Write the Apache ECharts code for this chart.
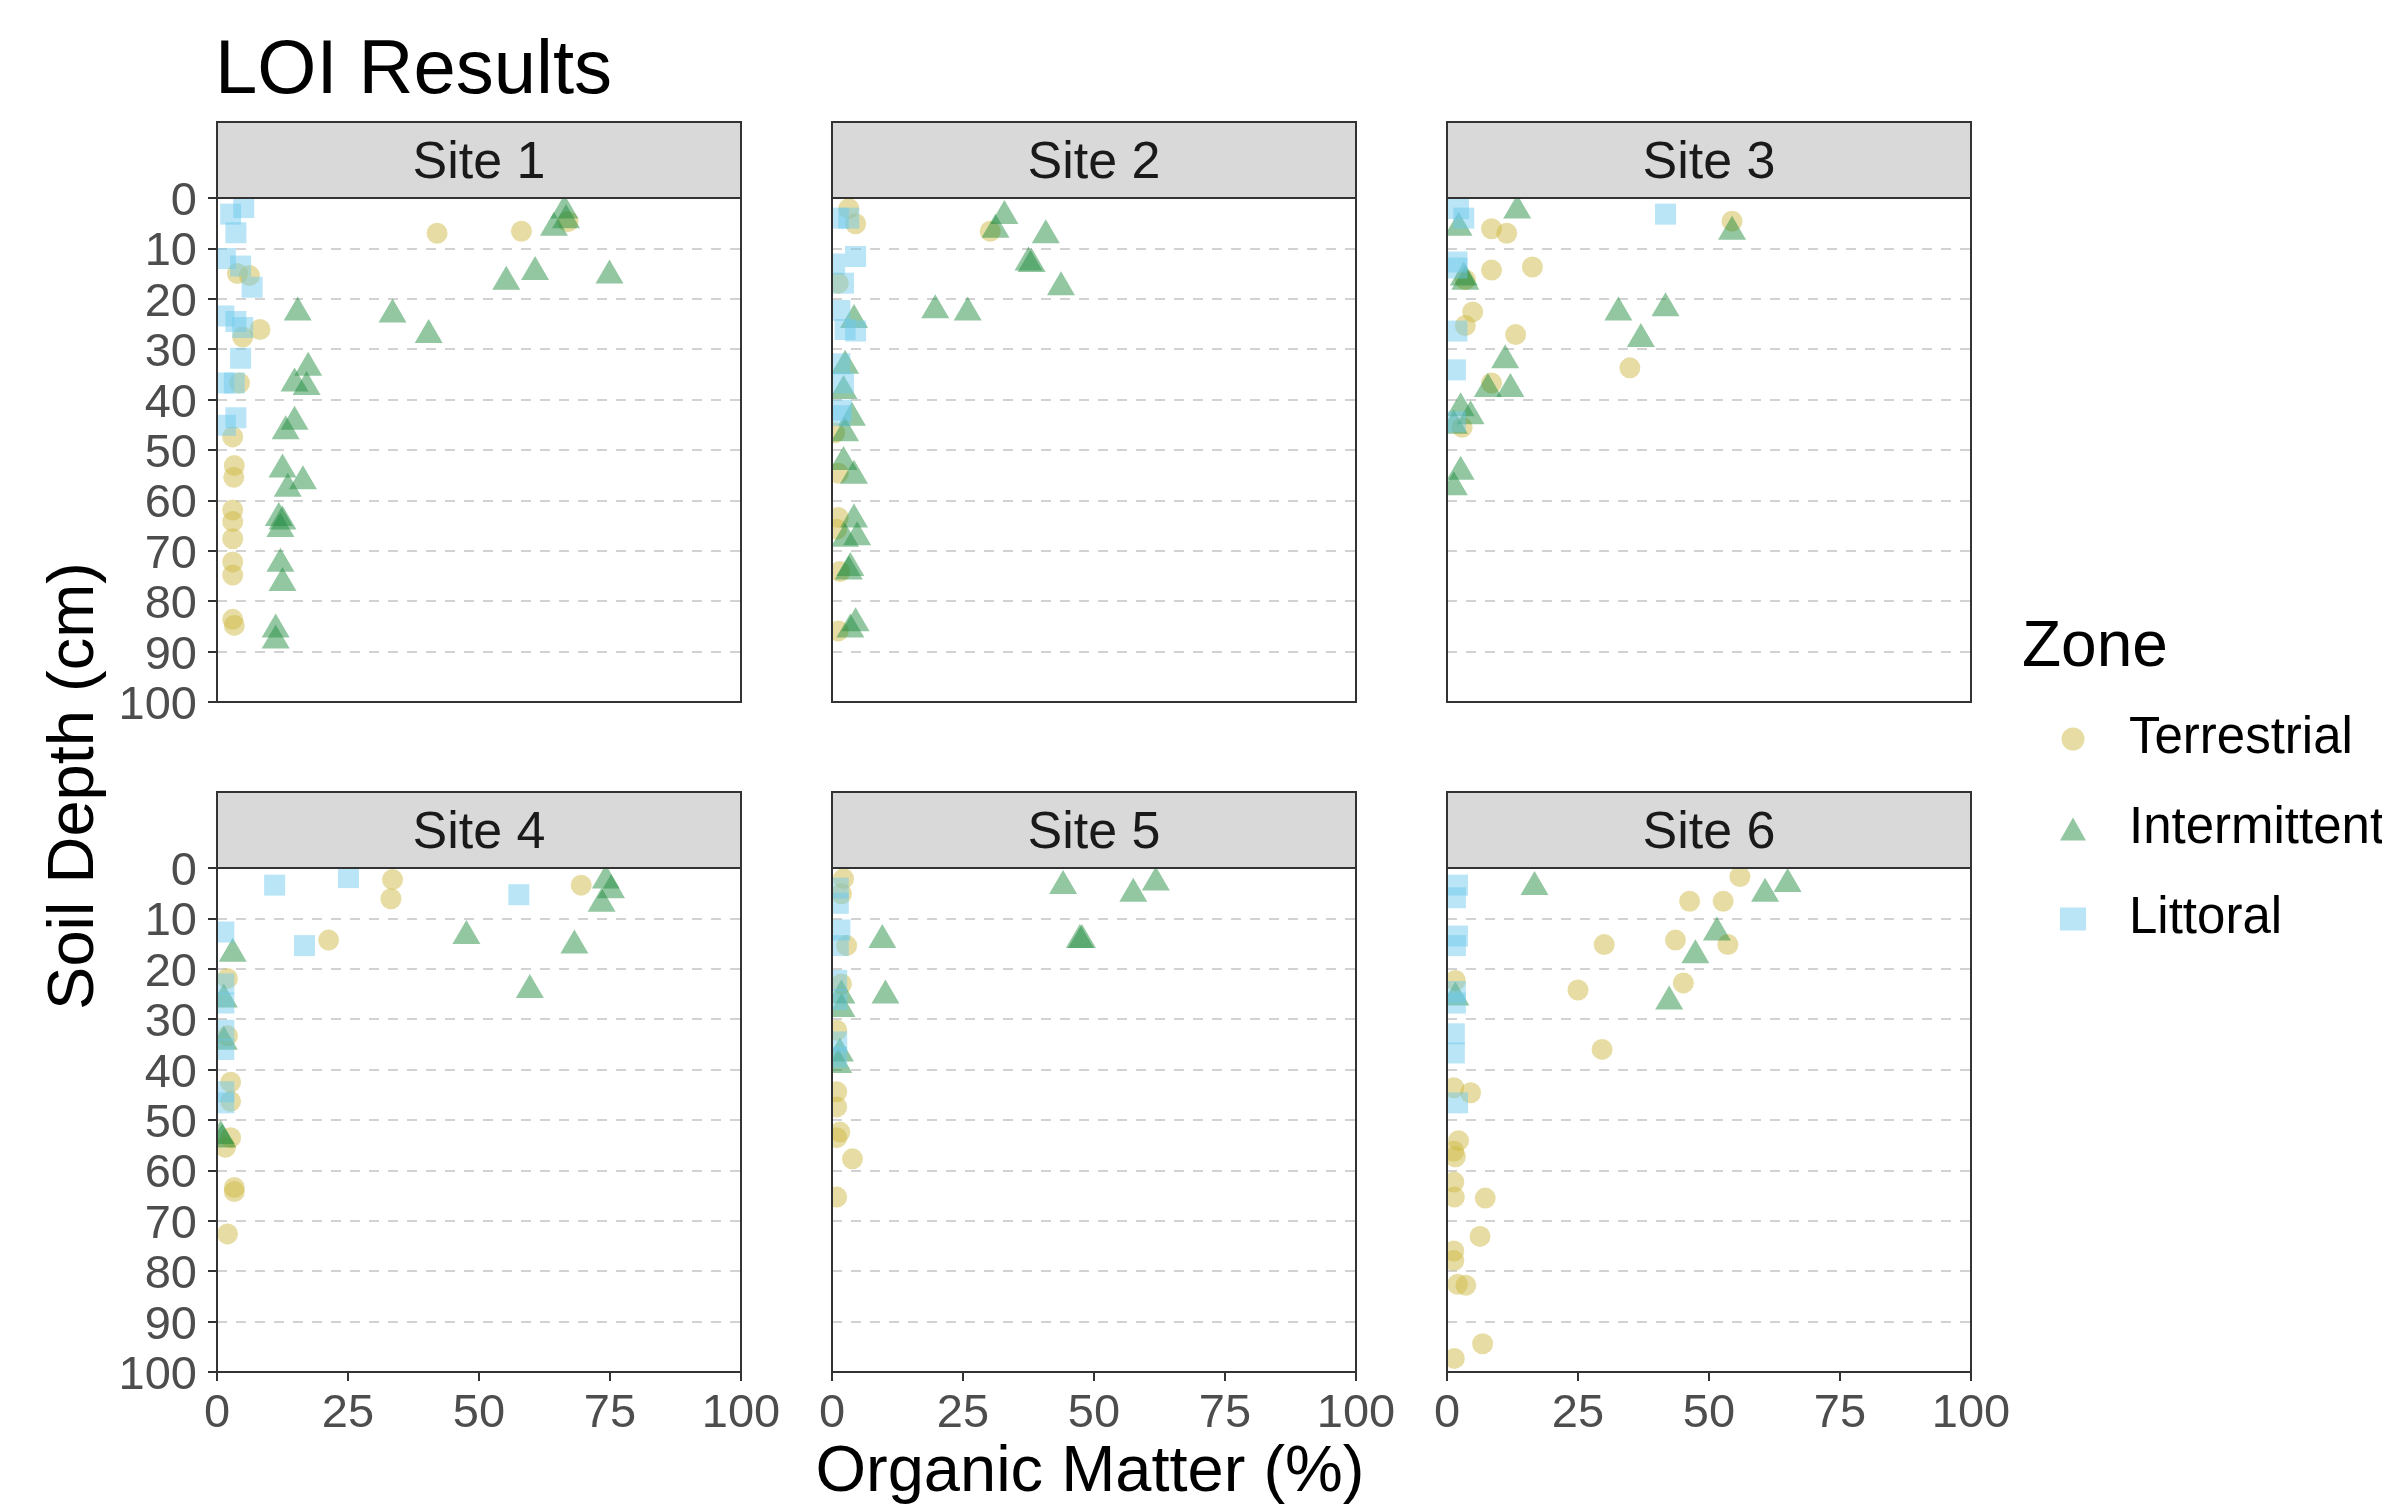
<!DOCTYPE html>
<html><head><meta charset="utf-8">
<script src="https://cdn.jsdelivr.net/npm/echarts/dist/echarts.min.js"></script>
<style>html,body{margin:0;padding:0;background:#fff}#c{width:2382px;height:1506px}</style>
</head><body><div id="c"></div><script>
// ---- data: [organic matter %, depth cm] ----
const siteNames = ['Site 1','Site 2','Site 3','Site 4','Site 5','Site 6'];
const zoneNames = ['Terrestrial','Intermittent','Littoral'];
const depthTicks = [0,10,20,30,40,50,60,70,80,90,100];
const omTicks = [0,25,50,75,100];

const s1Terrestrial = [[42.0,7.0],[58.1,6.6],[67.0,4.7],[3.9,15.0],[6.2,15.4],[8.2,26.1],[4.9,27.6],[4.3,36.7],[3.0,47.4],[3.3,53.1],[3.2,55.4],[3.0,61.9],[3.0,64.2],[3.0,67.6],[3.0,72.2],[3.0,74.8],[3.0,83.6],[3.3,84.8]];
const s1Intermittent = [[66.3,1.7],[66.6,3.6],[64.3,5.1],[55.2,15.8],[60.7,13.9],[74.9,14.6],[15.4,21.9],[33.5,22.3],[40.4,26.4],[17.4,32.9],[14.8,36.0],[17.1,36.7],[14.8,43.6],[13.1,45.5],[12.5,53.1],[16.4,55.4],[13.5,56.9],[11.8,62.7],[12.5,63.4],[12.1,64.9],[12.1,71.8],[12.5,75.6],[11.2,84.8],[11.2,87.0]];
const s1Littoral = [[2.6,3.2],[5.1,1.9],[3.6,6.9],[1.6,12.0],[4.5,13.5],[6.7,17.7],[1.3,23.4],[3.6,24.5],[4.9,25.7],[4.5,31.8],[1.3,36.7],[3.3,36.7],[3.6,43.6],[1.6,45.1]];

const s2Terrestrial = [[3.2,2.1],[4.5,5.1],[30.2,6.6],[1.2,16.9],[0.5,46.6],[1.2,54.6],[1.2,63.4],[0.9,65.7],[1.5,74.1],[1.2,85.9]];
const s2Intermittent = [[32.9,2.8],[31.2,5.5],[40.8,6.6],[37.5,12.0],[38.1,12.3],[43.7,16.9],[19.7,21.5],[25.9,21.9],[4.2,23.4],[2.5,32.5],[2.2,37.5],[3.8,42.8],[2.5,45.9],[2.2,51.6],[4.2,54.3],[4.2,63.0],[4.8,66.5],[2.5,66.8],[3.5,72.6],[3.2,73.3],[4.5,83.6],[3.5,84.8]];
const s2Littoral = [[3.2,4.0],[1.2,4.0],[4.5,11.6],[0.5,13.1],[2.2,16.9],[1.5,22.3],[2.5,26.1],[4.5,26.4],[1.5,32.9],[2.2,36.7],[1.8,42.1],[1.5,43.2]];

const s3Terrestrial = [[8.5,6.1],[11.4,7.0],[54.4,4.6],[8.5,14.3],[16.3,13.7],[3.5,16.2],[4.9,22.6],[3.5,25.3],[13.1,27.1],[34.9,33.7],[8.5,36.7],[2.9,45.5]];
const s3Intermittent = [[13.4,1.7],[2.2,5.1],[54.4,5.9],[3.2,15.0],[3.5,15.8],[32.7,21.9],[41.7,21.1],[37.0,27.2],[11.1,31.4],[7.8,37.1],[12.1,37.1],[2.6,40.9],[4.5,42.5],[1.3,44.4],[2.6,53.5],[1.3,56.6]];
const s3Littoral = [[2.2,2.1],[3.2,4.0],[41.7,3.2],[1.9,12.7],[1.9,13.9],[1.9,26.4],[1.6,34.1],[1.6,44.4]];

const s4Terrestrial = [[33.5,2.3],[33.2,6.1],[69.5,3.4],[21.3,14.3],[2.0,21.9],[2.0,33.3],[2.6,42.5],[2.6,46.3],[2.6,53.5],[1.6,55.4],[3.3,63.4],[3.3,64.2],[2.0,72.6]];
const s4Intermittent = [[74.2,1.7],[75.2,3.6],[73.4,6.3],[47.6,12.7],[68.2,14.6],[59.7,23.4],[3.0,16.2],[1.3,25.3],[1.3,33.7],[0.7,52.4],[1.0,53.1]];
const s4Littoral = [[11.0,3.4],[25.1,1.9],[57.6,5.3],[16.7,15.4],[1.3,12.7],[1.3,23.0],[1.3,26.8],[1.3,32.2],[1.3,36.0],[1.3,44.4],[1.3,46.6]];

const s5Terrestrial = [[2.2,2.1],[1.8,5.1],[2.8,15.4],[1.8,23.0],[0.9,32.2],[0.9,44.4],[0.9,47.4],[1.5,52.4],[0.9,53.5],[3.9,57.7],[0.9,65.3]];
const s5Intermittent = [[44.1,2.8],[61.8,2.1],[57.5,4.3],[9.6,13.5],[47.3,13.5],[47.7,13.5],[10.2,24.5],[1.8,24.5],[1.8,27.2],[1.5,36.0],[1.2,38.3]];
const s5Littoral = [[1.2,4.0],[1.2,7.0],[1.5,12.3],[1.2,15.4],[0.9,22.3],[0.9,26.1],[0.9,34.5],[0.9,37.5]];

const s6Terrestrial = [[55.9,1.7],[46.3,6.6],[52.7,6.6],[30.0,15.2],[43.6,14.3],[53.6,15.2],[25.0,24.2],[45.1,22.8],[1.6,22.3],[29.6,36.0],[1.3,43.6],[4.5,44.6],[2.2,54.1],[1.3,56.2],[1.6,57.3],[1.3,62.3],[1.4,65.3],[7.3,65.5],[6.3,73.1],[1.3,76.0],[1.3,77.9],[2.0,82.6],[3.6,82.8],[6.8,94.4],[1.4,97.3]];
const s6Intermittent = [[16.7,3.0],[65.0,2.4],[60.7,4.3],[51.5,12.0],[47.4,16.5],[42.4,25.7],[1.6,24.9]];
const s6Littoral = [[2.0,3.4],[1.6,5.9],[2.0,13.5],[1.6,15.4],[1.6,24.5],[1.6,26.8],[1.4,32.9],[1.4,36.7],[2.0,46.6]];

const siteData = [
  [s1Terrestrial, s1Intermittent, s1Littoral],
  [s2Terrestrial, s2Intermittent, s2Littoral],
  [s3Terrestrial, s3Intermittent, s3Littoral],
  [s4Terrestrial, s4Intermittent, s4Littoral],
  [s5Terrestrial, s5Intermittent, s5Littoral],
  [s6Terrestrial, s6Intermittent, s6Littoral]
];

// ---- styling / layout ----
const FONT = '"Liberation Sans", Arial, Helvetica, sans-serif';
const zoneColors = ['rgba(205,184,64,0.6)','rgba(30,138,60,0.6)','rgba(108,200,236,0.6)'];
const zoneSymbols = ['circle','triangle','rect'];
const zoneSizes = [21,[28,24],21];
const colLeft = [217, 832, 1447];
const rowTop = [198, 868];
const PW = 524, PH = 504, STRIP = 76;

const grids = [], xAxes = [], yAxes = [], series = [], graphics = [];

// masks to clip symbol overflow outside panels
const maskRects = [
  [0, 100, 216, 1290],
  [742, 100, 89, 1300],
  [1357, 100, 89, 1300],
  [1972, 100, 40, 1300],
  [0, 703, 2010, 88],
  [0, 1373, 2010, 14]
];
maskRects.forEach(r => graphics.push({type:'rect', silent:true, z:3,
  shape:{x:r[0], y:r[1], width:r[2], height:r[3]}, style:{fill:'#ffffff'}}));

for (let i = 0; i < 6; i++) {
  const c = i % 3, r = Math.floor(i / 3);
  const L = colLeft[c], T = rowTop[r];
  grids.push({left:L, top:T, width:PW, height:PH, show:false, containLabel:false, outerBoundsMode:'none'});
  const isBottom = r === 1, isLeft = c === 0;
  xAxes.push({
    gridIndex:i, type:'value', position:'bottom', min:omTicks[0], max:omTicks[omTicks.length-1], interval:25, z:5,
    axisLine:{show:false, onZero:false}, splitLine:{show:false},
    axisTick:{show:isBottom, length:9, lineStyle:{color:'#333333', width:2}},
    axisLabel:{show:isBottom, fontSize:47, color:'#4D4D4D', fontFamily:FONT, margin:19}
  });
  // split-line axis (below points)
  yAxes.push({
    gridIndex:i, type:'value', inverse:true, position:'left', min:depthTicks[0], max:depthTicks[depthTicks.length-1], interval:10, z:0,
    axisLine:{show:false, onZero:false}, axisTick:{show:false}, axisLabel:{show:false},
    splitLine:{show:true, lineStyle:{color:'#C4C4C4', width:1.6, type:[10,9]}}
  });
  // tick/label axis (above masks)
  yAxes.push({
    gridIndex:i, type:'value', inverse:true, position:'left', min:depthTicks[0], max:depthTicks[depthTicks.length-1], interval:10, z:5,
    axisLine:{show:false, onZero:false}, splitLine:{show:false},
    axisTick:{show:isLeft, length:9, lineStyle:{color:'#333333', width:2}},
    axisLabel:{show:isLeft, margin:20, formatter: v => '{a|' + v + '}',
      rich:{a:{fontSize:47, color:'#4D4D4D', fontFamily:FONT, padding:[8,0,0,0]}}}
  });
  for (let z = 0; z < 3; z++) {
    series.push({
      type:'scatter', name:zoneNames[z], xAxisIndex:i, yAxisIndex:2*i,
      data:siteData[i][z], symbol:zoneSymbols[z], symbolSize:zoneSizes[z],
      itemStyle:{color:zoneColors[z]}, emphasis:{disabled:true}, silent:true, clip:false, z:2
    });
  }
  // strip
  graphics.push({type:'rect', silent:true, z:4,
    shape:{x:L, y:T-STRIP, width:PW, height:STRIP},
    style:{fill:'#D9D9D9', stroke:'#333333', lineWidth:2}});
  graphics.push({type:'text', silent:true, z:7, x:L+PW/2, y:T-STRIP/2+4,
    style:{text:siteNames[i], fill:'#1A1A1A', fontSize:52, fontFamily:FONT,
      align:'center', verticalAlign:'middle', textAlign:'center', textVerticalAlign:'middle'}});
  // panel border
  graphics.push({type:'rect', silent:true, z:6,
    shape:{x:L, y:T, width:PW, height:PH},
    style:{fill:'none', stroke:'#333333', lineWidth:2}});
}

// axis titles and legend title
graphics.push({type:'text', silent:true, z:7, x:1090, y:1473,
  style:{text:'Organic Matter (%)', fill:'#000', fontSize:65, fontFamily:FONT,
    align:'center', verticalAlign:'middle', textAlign:'center', textVerticalAlign:'middle'}});
graphics.push({type:'text', silent:true, z:7, x:75, y:786, rotation:Math.PI/2,
  style:{text:'Soil Depth (cm)', fill:'#000', fontSize:65, fontFamily:FONT,
    align:'center', verticalAlign:'middle', textAlign:'center', textVerticalAlign:'middle'}});
graphics.push({type:'text', silent:true, z:7, x:2022, y:648,
  style:{text:'Zone', fill:'#000', fontSize:64, fontFamily:FONT,
    align:'left', verticalAlign:'middle', textAlign:'left', textVerticalAlign:'middle'}});

const chart = echarts.init(document.getElementById('c'), null, {renderer:'canvas'});
chart.setOption({
  animation:false,
  backgroundColor:'#ffffff',
  title:[{text:'LOI Results', left:215, top:34, padding:0,
    textStyle:{fontSize:76, fontWeight:'normal', color:'#000', fontFamily:FONT}}],
  legend:{
    orient:'vertical', left:2055, top:706, itemWidth:26, itemHeight:23, itemGap:34,
    selectedMode:false,
    textStyle:{fontSize:51, color:'#000', fontFamily:FONT, lineHeight:56, padding:[0,0,0,38]},
    data:[{name:'Terrestrial', icon:'circle'},{name:'Intermittent', icon:'triangle'},{name:'Littoral', icon:'rect'}]
  },
  grid:grids, xAxis:xAxes, yAxis:yAxes, series:series, graphic:{elements:graphics}
});
</script></body></html>
